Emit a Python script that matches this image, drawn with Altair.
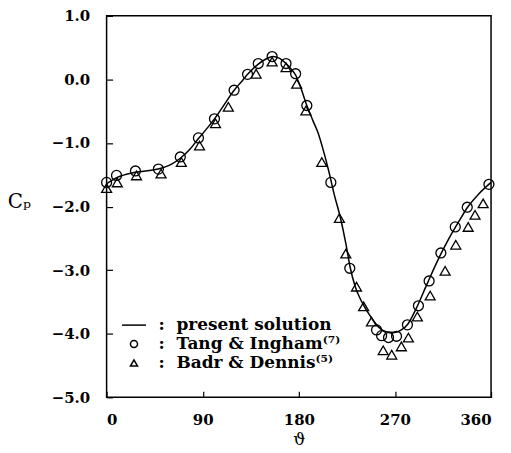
import altair as alt
import pandas as pd

# present solution (solid line)
line_theta = [0, 10, 27, 48, 60, 69, 78, 86, 94, 101, 110, 119.4, 126, 132, 142, 150, 156, 162,
              168, 173, 177, 182, 187.5, 193, 198, 203, 208, 213, 219, 224, 228, 233, 239, 248,
              255, 262, 270, 276, 282, 290, 300, 312, 320, 330, 338, 348, 360]
line_cp = [-1.64, -1.54, -1.46, -1.41, -1.34, -1.24, -1.10, -0.93, -0.77, -0.62, -0.40, -0.17, -0.04,
           0.08, 0.24, 0.33, 0.36, 0.33, 0.25, 0.16, 0.07, -0.14, -0.41, -0.64, -0.84, -1.12, -1.44,
           -1.80, -2.18, -2.58, -2.95, -3.27, -3.50, -3.75, -3.90, -3.97, -3.98, -3.94, -3.85, -3.60,
           -3.22, -2.78, -2.52, -2.23, -2.01, -1.81, -1.62]

# Tang & Ingham (circles)
tang_theta = [0, 9.3, 27, 48.5, 69, 86, 101, 119.4, 132, 142, 155, 168, 177, 187.5, 210, 227.7,
              252.8, 257.5, 264, 271.5, 281.7, 292, 302, 313, 326.5, 337.7, 358]
tang_cp = [-1.62, -1.51, -1.44, -1.41, -1.22, -0.92, -0.62, -0.17, 0.08, 0.25, 0.36, 0.25, 0.09,
           -0.41, -1.62, -2.97, -3.94, -4.03, -4.06, -4.04, -3.86, -3.56, -3.17, -2.73, -2.32,
           -2.01, -1.65]

# Badr & Dennis (triangles)
badr_theta = [0, 10, 28, 51, 70, 87, 102, 114, 140, 155, 168, 178, 186.6, 201.5, 218, 224, 234,
              240.7, 248, 259, 267, 276, 282.6, 291, 303, 317, 327, 338.6, 345, 352.6]
badr_cp = [-1.71, -1.62, -1.51, -1.48, -1.30, -1.04, -0.69, -0.43, 0.09, 0.28, 0.19, -0.07, -0.49,
           -1.30, -2.18, -2.74, -3.26, -3.57, -3.81, -4.26, -4.33, -4.20, -4.06, -3.73, -3.40,
           -3.01, -2.60, -2.32, -2.13, -1.95]

series_names = ["present solution", "Tang & Ingham\u207d\u2077\u207e", "Badr & Dennis\u207d\u2075\u207e"]
y_ticks = [-5.0, -4.5, -4.0, -3.5, -3.0, -2.5, -2.0, -1.5, -1.0, -0.5, 0.0, 0.5, 1.0]
x_ticks = [0, 90, 180, 270, 360]

FONT = "DejaVu Serif"

line_df = pd.DataFrame({"theta": line_theta, "cp": line_cp})
pts_df = pd.concat([
    pd.DataFrame({"theta": tang_theta, "cp": tang_cp, "src": series_names[1]}),
    pd.DataFrame({"theta": badr_theta, "cp": badr_cp, "src": series_names[2]}),
], ignore_index=True)

x_enc = alt.X("theta:Q", scale=alt.Scale(domain=[0, 360], nice=False, zero=False),
              axis=alt.Axis(values=x_ticks, title="\u03d1", offset=-6, tickSize=6, domain=False,
                            labelPadding=15, titlePadding=4, grid=False))
y_enc = alt.Y("cp:Q", scale=alt.Scale(domain=[-5, 1], nice=False, zero=False),
              axis=alt.Axis(values=y_ticks, title="C\u209a", offset=-6, tickSize=6, domain=False,
                            labelPadding=17, grid=False,
                            labelExpr="abs(datum.value % 1) < 0.001 ? format(datum.value, '.1f') : ''",
                            titleAngle=0, titleAlign="center", titleBaseline="middle",
                            titleX=-94, titleY=186, titleFontSize=20))

line = alt.Chart(line_df).mark_line(color="black", strokeWidth=1.5, interpolate="monotone").encode(
    x=x_enc, y=y_enc)

pts = alt.Chart(pts_df).mark_point(filled=False, color="black", size=100, strokeWidth=1.3, opacity=1).encode(
    x="theta:Q", y="cp:Q",
    shape=alt.Shape("src:N",
                    scale=alt.Scale(domain=series_names, range=["M-3.4,0H3.4", "circle", "triangle-up"]),
                    legend=alt.Legend(title=None, orient="none", legendX=19, legendY=302,
                                      padding=0, symbolSize=50, symbolStrokeWidth=1.5,
                                      symbolStrokeColor="black", labelOffset=16, rowPadding=1,
                                      labelLimit=0,
                                      labelExpr="':\u00a0\u00a0' + datum.label",
                                      labelFont=FONT, labelFontSize=17, labelFontWeight="bold",
                                      labelColor="black")))

chart = alt.layer(line, pts).properties(
    width=386, height=383,
    autosize=alt.AutoSizeParams(type="none"),
    padding={"left": 99, "top": 7, "right": 12, "bottom": 50},
).configure_view(stroke="black", strokeWidth=1.5).configure_axis(
    labelFont=FONT, labelFontSize=15, labelFontWeight="bold", labelColor="black",
    titleFont=FONT, titleFontSize=17, titleFontWeight="normal", titleColor="black",
    tickColor="black", tickWidth=1.2,
)

chart.save("out.html", embed_options={"renderer": "svg", "actions": False})
